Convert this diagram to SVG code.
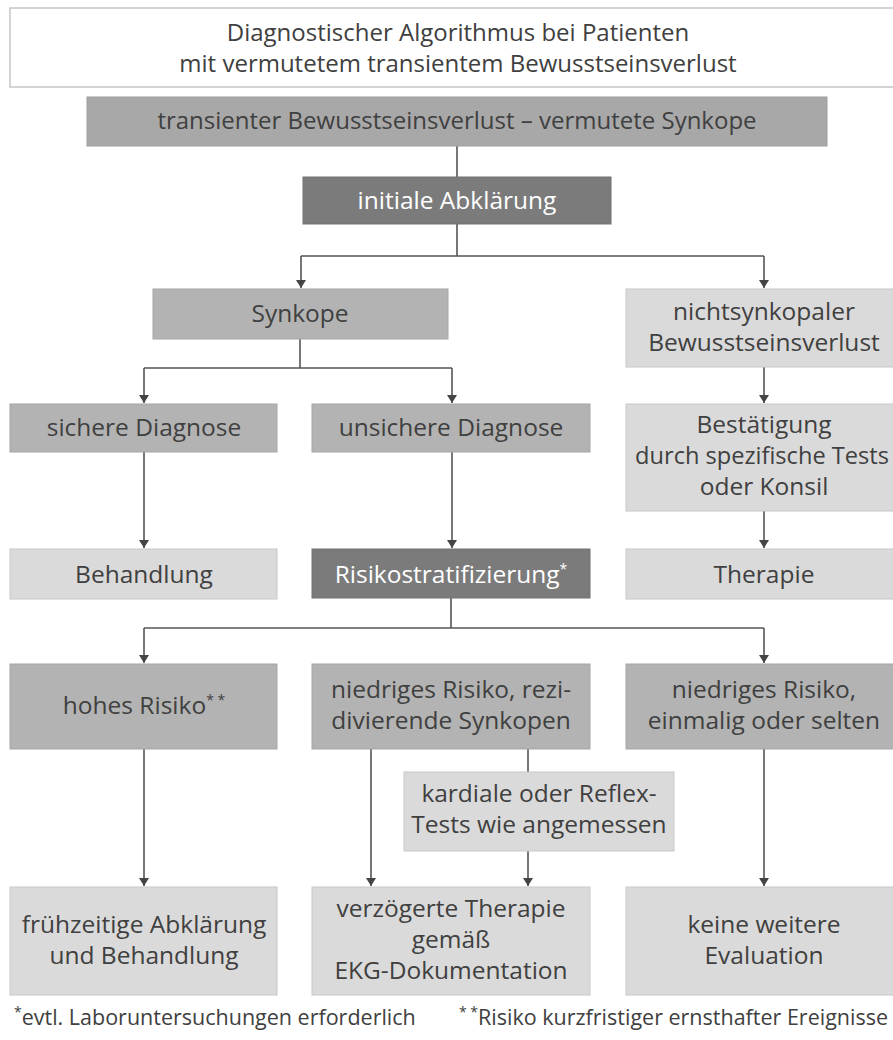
<svg xmlns="http://www.w3.org/2000/svg" width="893" height="1040" viewBox="0 0 893 1040">
<style>
text{font-family:"Open Sans","Liberation Sans",Arial,sans-serif;font-size:24.5px;fill:#404040;text-anchor:middle}
.t{font-size:24px}
.w{fill:#ffffff}
.sup{font-size:14px}
.fn{font-size:21.5px;text-anchor:start}
.title{fill:#ffffff;stroke:#c6c6c6;stroke-width:1.5}
.mid{fill:#b3b3b3;stroke:#a6a6a6;stroke-width:1}
.top{fill:#a8a8a8;stroke:#9e9e9e;stroke-width:1}
.dark{fill:#7b7b7b;stroke:#737373;stroke-width:1}
.light{fill:#dadada;stroke:#c8c8c8;stroke-width:1}
.c{fill:none;stroke:#555555;stroke-width:1.6}
.a{marker-end:url(#arr)}
</style>
<defs>
<marker id="arr" viewBox="0 0 8 10" refX="8" refY="5" markerWidth="8" markerHeight="10" markerUnits="userSpaceOnUse" orient="auto">
<path d="M0,0 L8,5 L0,10 Z" fill="#444444"/>
</marker>
</defs>
<g id="connectors">
<path class="c" d="M457,146 V177"/>
<path class="c" d="M457,224 V256 M301,256 H764"/>
<path class="c a" d="M301,256 V288"/>
<path class="c a" d="M764,256 V288"/>
<path class="c" d="M300,339 V368 M144,368 H452"/>
<path class="c a" d="M144,368 V403"/>
<path class="c a" d="M452,368 V403"/>
<path class="c a" d="M764,367 V403"/>
<path class="c a" d="M144,452 V548"/>
<path class="c a" d="M452,452 V548"/>
<path class="c a" d="M764,511 V548"/>
<path class="c" d="M451,598 V628 M144,628 H764"/>
<path class="c a" d="M144,628 V663"/>
<path class="c a" d="M764,628 V663"/>
<path class="c a" d="M144,749 V886"/>
<path class="c a" d="M371,749 V886"/>
<path class="c" d="M528,749 V772"/>
<path class="c a" d="M528,851 V886"/>
<path class="c a" d="M764,749 V886"/>
</g>
<g id="title">
<rect class="title" x="10" y="8" width="900" height="79"/>
<text class="t" x="458" y="41">Diagnostischer Algorithmus bei Patienten</text>
<text class="t" x="458" y="72">mit vermutetem transientem Bewusstseinsverlust</text>
</g>
<g id="tlo">
<rect class="top" x="87" y="97" width="740" height="49"/>
<text class="t" x="457" y="129">transienter Bewusstseinsverlust – vermutete Synkope</text>
</g>
<g id="initial">
<rect class="dark" x="303" y="177" width="308" height="47"/>
<text class="w" x="457" y="209">initiale Abklärung</text>
</g>
<g id="synkope">
<rect class="mid" x="153" y="289" width="295" height="50"/>
<text x="300" y="322">Synkope</text>
</g>
<g id="nichtsynkopal">
<rect class="light" x="626" y="289" width="280" height="78"/>
<text x="764" y="320">nichtsynkopaler</text>
<text x="764" y="351">Bewusstseinsverlust</text>
</g>
<g id="sicher">
<rect class="mid" x="10" y="404" width="267" height="48"/>
<text x="144" y="436">sichere Diagnose</text>
</g>
<g id="unsicher">
<rect class="mid" x="312" y="404" width="278" height="48"/>
<text x="451" y="436">unsichere Diagnose</text>
</g>
<g id="bestaetigung">
<rect class="light" x="626" y="404" width="280" height="107"/>
<text x="764" y="433">Bestätigung</text>
<text x="762" y="464" style="font-size:23.6px">durch spezifische Tests</text>
<text x="764" y="495">oder Konsil</text>
</g>
<g id="behandlung">
<rect class="light" x="10" y="549" width="267" height="50"/>
<text x="144" y="583">Behandlung</text>
</g>
<g id="risiko">
<rect class="dark" x="312" y="549" width="278" height="49"/>
<text class="w" x="451" y="583">Risikostratifizierung<tspan class="sup" dy="-9">*</tspan></text>
</g>
<g id="therapie">
<rect class="light" x="626" y="549" width="280" height="50"/>
<text x="764" y="583">Therapie</text>
</g>
<g id="hoch">
<rect class="mid" x="10" y="664" width="267" height="85"/>
<text x="144" y="714">hohes Risiko<tspan class="sup" dy="-9">* *</tspan></text>
</g>
<g id="niedrigrezi">
<rect class="mid" x="312" y="664" width="278" height="85"/>
<text x="451" y="698">niedriges Risiko, rezi-</text>
<text x="451" y="729">divierende Synkopen</text>
</g>
<g id="niedrigselten">
<rect class="mid" x="626" y="664" width="280" height="85"/>
<text x="764" y="698">niedriges Risiko,</text>
<text x="764" y="729">einmalig oder selten</text>
</g>
<g id="kardial">
<rect class="light" x="404" y="772" width="270" height="79"/>
<text x="539" y="802">kardiale oder Reflex-</text>
<text x="539" y="833">Tests wie angemessen</text>
</g>
<g id="fruehzeitig">
<rect class="light" x="10" y="887" width="267" height="108"/>
<text x="144" y="933">frühzeitige Abklärung</text>
<text x="144" y="964">und Behandlung</text>
</g>
<g id="verzoegert">
<rect class="light" x="312" y="887" width="278" height="108"/>
<text x="451" y="917">verzögerte Therapie</text>
<text x="451" y="948">gemäß</text>
<text x="451" y="979">EKG-Dokumentation</text>
</g>
<g id="keine">
<rect class="light" x="626" y="887" width="280" height="108"/>
<text x="764" y="933">keine weitere</text>
<text x="764" y="964">Evaluation</text>
</g>
<g id="footnotes">
<text class="fn" x="14" y="1025"><tspan class="sup" dy="-8">*</tspan><tspan dy="8">evtl. Laboruntersuchungen erforderlich</tspan></text>
<text class="fn" x="459" y="1025"><tspan class="sup" dy="-8">* *</tspan><tspan dy="8">Risiko kurzfristiger ernsthafter Ereignisse</tspan></text>
</g>
</svg>
